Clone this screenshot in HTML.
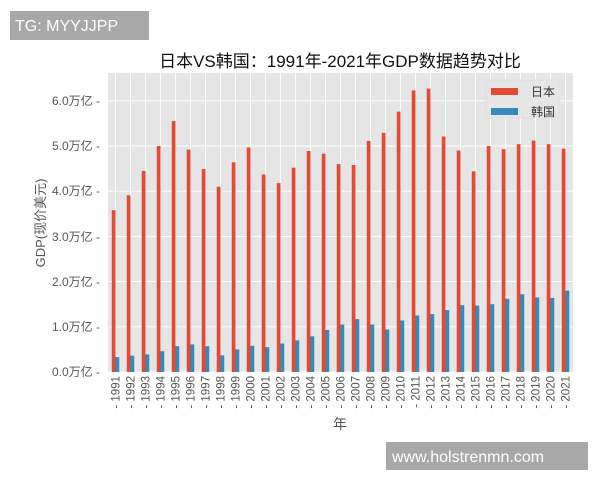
<!DOCTYPE html>
<html><head><meta charset="utf-8"><style>
html,body{margin:0;padding:0;background:#fff;}
svg{display:block;font-family:"Liberation Sans","Noto Sans CJK SC",sans-serif;}
</style></head><body>
<svg width="600" height="480" viewBox="0 0 600 480" xmlns="http://www.w3.org/2000/svg">
<rect width="600" height="480" fill="#fff"/>
<rect x="108" y="73" width="465" height="299" fill="#E5E5E5"/>
<g stroke="#fff" stroke-width="0.9">
<line x1="108" x2="573" y1="372" y2="372"/><line x1="108" x2="573" y1="326.8" y2="326.8"/><line x1="108" x2="573" y1="281.6" y2="281.6"/><line x1="108" x2="573" y1="236.4" y2="236.4"/><line x1="108" x2="573" y1="191.2" y2="191.2"/><line x1="108" x2="573" y1="146" y2="146"/><line x1="108" x2="573" y1="100.8" y2="100.8"/>
<g id="vg">
<line x1="115.5" x2="115.5" y1="73" y2="372"/><line x1="130.5" x2="130.5" y1="73" y2="372"/><line x1="145.5" x2="145.5" y1="73" y2="372"/><line x1="160.5" x2="160.5" y1="73" y2="372"/><line x1="175.5" x2="175.5" y1="73" y2="372"/><line x1="190.5" x2="190.5" y1="73" y2="372"/><line x1="205.5" x2="205.5" y1="73" y2="372"/><line x1="220.5" x2="220.5" y1="73" y2="372"/><line x1="235.5" x2="235.5" y1="73" y2="372"/><line x1="250.5" x2="250.5" y1="73" y2="372"/><line x1="265.5" x2="265.5" y1="73" y2="372"/><line x1="280.5" x2="280.5" y1="73" y2="372"/><line x1="295.5" x2="295.5" y1="73" y2="372"/><line x1="310.5" x2="310.5" y1="73" y2="372"/><line x1="325.5" x2="325.5" y1="73" y2="372"/><line x1="340.5" x2="340.5" y1="73" y2="372"/>
</g>
<g transform="translate(240,0)"><line x1="115.5" x2="115.5" y1="73" y2="372"/><line x1="130.5" x2="130.5" y1="73" y2="372"/><line x1="145.5" x2="145.5" y1="73" y2="372"/><line x1="160.5" x2="160.5" y1="73" y2="372"/><line x1="175.5" x2="175.5" y1="73" y2="372"/><line x1="190.5" x2="190.5" y1="73" y2="372"/><line x1="205.5" x2="205.5" y1="73" y2="372"/><line x1="220.5" x2="220.5" y1="73" y2="372"/><line x1="235.5" x2="235.5" y1="73" y2="372"/><line x1="250.5" x2="250.5" y1="73" y2="372"/><line x1="265.5" x2="265.5" y1="73" y2="372"/><line x1="280.5" x2="280.5" y1="73" y2="372"/><line x1="295.5" x2="295.5" y1="73" y2="372"/><line x1="310.5" x2="310.5" y1="73" y2="372"/><line x1="325.5" x2="325.5" y1="73" y2="372"/></g>
</g>
<g fill="#E24A33">
<rect x="111.75" y="210.2" width="3.75" height="161.8"/><rect x="126.75" y="195.3" width="3.75" height="176.7"/><rect x="141.75" y="170.9" width="3.75" height="201.1"/><rect x="156.75" y="146" width="3.75" height="226"/><rect x="171.75" y="121.1" width="3.75" height="250.9"/><rect x="186.75" y="149.6" width="3.75" height="222.4"/><rect x="201.75" y="169" width="3.75" height="203"/><rect x="216.75" y="186.7" width="3.75" height="185.3"/><rect x="231.75" y="162.3" width="3.75" height="209.7"/><rect x="246.75" y="147.4" width="3.75" height="224.6"/><rect x="261.75" y="174.5" width="3.75" height="197.5"/><rect x="276.75" y="183.1" width="3.75" height="188.9"/><rect x="291.75" y="167.7" width="3.75" height="204.3"/><rect x="306.75" y="151" width="3.75" height="221"/><rect x="321.75" y="153.7" width="3.75" height="218.3"/><rect x="336.75" y="164.1" width="3.75" height="207.9"/><rect x="351.75" y="165" width="3.75" height="207"/><rect x="366.75" y="141" width="3.75" height="231"/><rect x="381.75" y="132.9" width="3.75" height="239.1"/><rect x="396.75" y="111.6" width="3.75" height="260.4"/><rect x="411.75" y="90.4" width="3.75" height="281.6"/><rect x="426.75" y="88.6" width="3.75" height="283.4"/><rect x="441.75" y="136.5" width="3.75" height="235.5"/><rect x="456.75" y="150.5" width="3.75" height="221.5"/><rect x="471.75" y="171.3" width="3.75" height="200.7"/><rect x="486.75" y="146" width="3.75" height="226"/><rect x="501.75" y="149.2" width="3.75" height="222.8"/><rect x="516.75" y="144.2" width="3.75" height="227.8"/><rect x="531.75" y="140.6" width="3.75" height="231.4"/><rect x="546.75" y="144.2" width="3.75" height="227.8"/><rect x="561.75" y="148.7" width="3.75" height="223.3"/>
</g>
<g fill="#348ABD">
<rect x="115.5" y="357.1" width="3.75" height="14.9"/><rect x="130.5" y="355.7" width="3.75" height="16.3"/><rect x="145.5" y="354.4" width="3.75" height="17.6"/><rect x="160.5" y="351.2" width="3.75" height="20.8"/><rect x="175.5" y="346.2" width="3.75" height="25.8"/><rect x="190.5" y="344.4" width="3.75" height="27.6"/><rect x="205.5" y="346.2" width="3.75" height="25.8"/><rect x="220.5" y="355.3" width="3.75" height="16.7"/><rect x="235.5" y="349.4" width="3.75" height="22.6"/><rect x="250.5" y="345.8" width="3.75" height="26.2"/><rect x="265.5" y="347.1" width="3.75" height="24.9"/><rect x="280.5" y="343.5" width="3.75" height="28.5"/><rect x="295.5" y="340.4" width="3.75" height="31.6"/><rect x="310.5" y="336.3" width="3.75" height="35.7"/><rect x="325.5" y="330" width="3.75" height="42"/><rect x="340.5" y="324.5" width="3.75" height="47.5"/><rect x="355.5" y="319.1" width="3.75" height="52.9"/><rect x="370.5" y="324.5" width="3.75" height="47.5"/><rect x="385.5" y="329.5" width="3.75" height="42.5"/><rect x="400.5" y="320.5" width="3.75" height="51.5"/><rect x="415.5" y="315.5" width="3.75" height="56.5"/><rect x="430.5" y="314.1" width="3.75" height="57.9"/><rect x="445.5" y="310.1" width="3.75" height="61.9"/><rect x="460.5" y="305.1" width="3.75" height="66.9"/><rect x="475.5" y="305.6" width="3.75" height="66.4"/><rect x="490.5" y="304.2" width="3.75" height="67.8"/><rect x="505.5" y="298.8" width="3.75" height="73.2"/><rect x="520.5" y="294.3" width="3.75" height="77.7"/><rect x="535.5" y="297.4" width="3.75" height="74.6"/><rect x="550.5" y="297.9" width="3.75" height="74.1"/><rect x="565.5" y="290.6" width="3.75" height="81.4"/>
</g>
<!-- y ticks -->
<g font-size="12" fill="#555" text-anchor="end">
<text x="100" y="376">0.0万亿 -</text><text x="100" y="331">1.0万亿 -</text><text x="100" y="286">2.0万亿 -</text><text x="100" y="241">3.0万亿 -</text><text x="100" y="195">4.0万亿 -</text><text x="100" y="150">5.0万亿 -</text><text x="100" y="105">6.0万亿 -</text>
</g>
<!-- x ticks -->
<g font-size="11.5" fill="#555" text-anchor="end">
<text transform="translate(119.5,376) rotate(-90)">- 1991</text><text transform="translate(134.5,376) rotate(-90)">- 1992</text><text transform="translate(149.5,376) rotate(-90)">- 1993</text><text transform="translate(164.5,376) rotate(-90)">- 1994</text><text transform="translate(179.5,376) rotate(-90)">- 1995</text><text transform="translate(194.5,376) rotate(-90)">- 1996</text><text transform="translate(209.5,376) rotate(-90)">- 1997</text><text transform="translate(224.5,376) rotate(-90)">- 1998</text><text transform="translate(239.5,376) rotate(-90)">- 1999</text><text transform="translate(254.5,376) rotate(-90)">- 2000</text><text transform="translate(269.5,376) rotate(-90)">- 2001</text><text transform="translate(284.5,376) rotate(-90)">- 2002</text><text transform="translate(299.5,376) rotate(-90)">- 2003</text><text transform="translate(314.5,376) rotate(-90)">- 2004</text><text transform="translate(329.5,376) rotate(-90)">- 2005</text><text transform="translate(344.5,376) rotate(-90)">- 2006</text><text transform="translate(359.5,376) rotate(-90)">- 2007</text><text transform="translate(374.5,376) rotate(-90)">- 2008</text><text transform="translate(389.5,376) rotate(-90)">- 2009</text><text transform="translate(404.5,376) rotate(-90)">- 2010</text><text transform="translate(419.5,376) rotate(-90)">- 2011</text><text transform="translate(434.5,376) rotate(-90)">- 2012</text><text transform="translate(449.5,376) rotate(-90)">- 2013</text><text transform="translate(464.5,376) rotate(-90)">- 2014</text><text transform="translate(479.5,376) rotate(-90)">- 2015</text><text transform="translate(494.5,376) rotate(-90)">- 2016</text><text transform="translate(509.5,376) rotate(-90)">- 2017</text><text transform="translate(524.5,376) rotate(-90)">- 2018</text><text transform="translate(539.5,376) rotate(-90)">- 2019</text><text transform="translate(554.5,376) rotate(-90)">- 2020</text><text transform="translate(569.5,376) rotate(-90)">- 2021</text>
</g>
<text x="340" y="429" font-size="14" fill="#555" text-anchor="middle">年</text>
<text transform="translate(45,223) rotate(-90)" font-size="13" fill="#555" text-anchor="middle">GDP(现价美元)</text>
<text x="340" y="67" font-size="17" fill="#111" text-anchor="middle">日本VS韩国：1991年-2021年GDP数据趋势对比</text>
<!-- legend -->
<rect x="486" y="80" width="73" height="38" rx="2" fill="#E5E5E5" stroke="#ddd" stroke-width="0.8" fill-opacity="0.9"/>
<rect x="491" y="88" width="27" height="7" fill="#E24A33"/>
<rect x="491" y="108" width="27" height="7" fill="#348ABD"/>
<text x="531" y="96" font-size="12" fill="#333">日本</text>
<text x="531" y="116" font-size="12" fill="#333">韩国</text>
<!-- watermarks -->
<rect x="10" y="11" width="139" height="29" fill="#a8a8a8"/>
<text x="15" y="31" font-size="16" fill="#fff">TG: MYYJJPP</text>
<rect x="386" y="442" width="202" height="28" fill="#a8a8a8"/>
<text x="392" y="462" font-size="16" fill="#fff">www.holstrenmn.com</text>
</svg>
</body></html>
